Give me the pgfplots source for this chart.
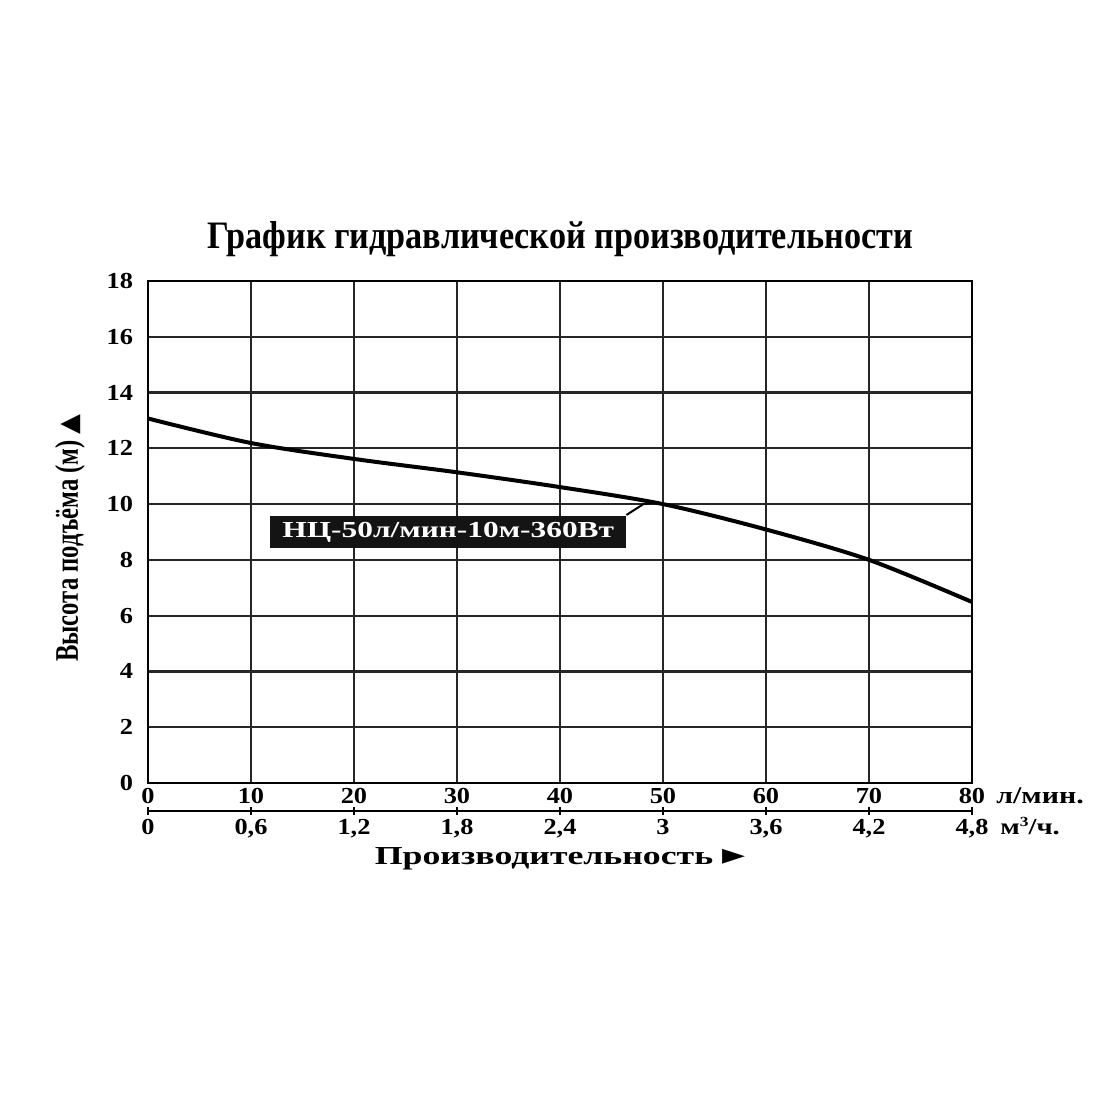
\documentclass[border=0pt]{standalone}
\usepackage{fontspec}
\usepackage{pgfplots}
\pgfplotsset{compat=1.18}
\setmainfont{Liberation Serif}
\newfontfamily\tickf[FakeStretch=1.15]{Liberation Serif}
\newfontfamily\titlef[FakeStretch=0.88]{Liberation Serif}
\newfontfamily\ylabf[FakeStretch=0.75]{Liberation Serif}
\newfontfamily\xlabf[FakeStretch=1.38]{Liberation Serif}
\newfontfamily\boxf[FakeStretch=1.37]{Liberation Serif}
\newfontfamily\unitf[FakeStretch=1.25]{Liberation Serif}
\newfontfamily\sym{DejaVu Sans}
\begin{document}
\begin{tikzpicture}
\fill[white] (0,0) rectangle (550bp,550bp);
\useasboundingbox (0,0) rectangle (550bp,550bp);
\begin{axis}[
  at={(74bp,158.5bp)}, anchor=south west,
  scale only axis, width=412bp, height=251bp,
  xmin=0, xmax=80, ymin=0, ymax=18,
  xtick={0,10,...,80}, ytick={0,2,...,18},
  xticklabels={0,10,20,30,40,50,60,70,80},
  yticklabels={0,2,4,6,8,10,12,14,16,18},
  major tick length=0pt,
  grid=major,
  major grid style={line width=1.1bp, black!85},
  axis line style={line width=1.4bp, black},
  xticklabel style={font=\tickf\bfseries\fontsize{11.5}{12}\selectfont, anchor=base, yshift=-10.5bp},
  yticklabel style={font=\tickf\bfseries\fontsize{11.5}{12}\selectfont, xshift=-4bp},
  clip=false,
]
\addplot[black, line width=2bp, smooth] coordinates {
(0,13.07) (10,12.19) (20,11.62) (30,11.14) (40,10.61) (50,10.0) (60,9.09) (70,8.0) (80,6.49)};
% second x axis line
\draw[line width=1bp, black] (axis cs:0,-1) -- (axis cs:80,-1);
\pgfplotsinvokeforeach{0,10,20,30,40,50,60,70,80}{\draw[line width=1bp] (axis cs:#1,-1.13) -- (axis cs:#1,-0.87);}
\node[anchor=base, font=\tickf\bfseries\fontsize{11.5}{12}\selectfont] at (axis cs:0,-1.857) {0};
\node[anchor=base, font=\tickf\bfseries\fontsize{11.5}{12}\selectfont] at (axis cs:10,-1.857) {0,6};
\node[anchor=base, font=\tickf\bfseries\fontsize{11.5}{12}\selectfont] at (axis cs:20,-1.857) {1,2};
\node[anchor=base, font=\tickf\bfseries\fontsize{11.5}{12}\selectfont] at (axis cs:30,-1.857) {1,8};
\node[anchor=base, font=\tickf\bfseries\fontsize{11.5}{12}\selectfont] at (axis cs:40,-1.857) {2,4};
\node[anchor=base, font=\tickf\bfseries\fontsize{11.5}{12}\selectfont] at (axis cs:50,-1.857) {3};
\node[anchor=base, font=\tickf\bfseries\fontsize{11.5}{12}\selectfont] at (axis cs:60,-1.857) {3,6};
\node[anchor=base, font=\tickf\bfseries\fontsize{11.5}{12}\selectfont] at (axis cs:70,-1.857) {4,2};
\node[anchor=base, font=\tickf\bfseries\fontsize{11.5}{12}\selectfont] at (axis cs:80,-1.857) {4,8};
\node[anchor=base west, font=\unitf\bfseries\fontsize{12}{12}\selectfont, inner sep=0pt] at (axis cs:80,-0.75) [xshift=12bp] {л/мин.};
\node[anchor=base west, font=\unitf\bfseries\fontsize{11.5}{12}\selectfont, inner sep=0pt] at (axis cs:80,-1.857) [xshift=14bp] {м\raisebox{0.8ex}{\fontsize{7}{8}\selectfont 3}/ч.};
% labels
\node[anchor=base, font=\titlef\bfseries\fontsize{19.5}{22}\selectfont] at (rel axis cs:0.5,1) [yshift=16bp] {График гидравлической производительности};
\node[anchor=base, font=\xlabf\bfseries\fontsize{13}{14}\selectfont] at (rel axis cs:0.5,0) [yshift=-41bp] {Производительность {\sym\fontsize{15}{16}\selectfont ►}};
\node[xshift=-39bp, yshift=-3bp, rotate=90, font=\ylabf\bfseries\fontsize{16.5}{18}\selectfont] at (rel axis cs:0,0.5) {Высота подъёма (м) {\sym\fontsize{13}{14}\selectfont ▲}};
% annotation box
\node[fill=black!92, text=white, font=\boxf\bfseries\fontsize{11.5}{13}\selectfont, minimum width=178bp, minimum height=16bp, inner sep=0pt] at (axis cs:29.15,9.0) {НЦ-50л/мин-10м-360Вт};
\draw[line width=1bp, black] (axis cs:46.45,9.61) -- (axis cs:48.1,10.0) -- (axis cs:48.9,10.03);
\end{axis}
\end{tikzpicture}
\end{document}
